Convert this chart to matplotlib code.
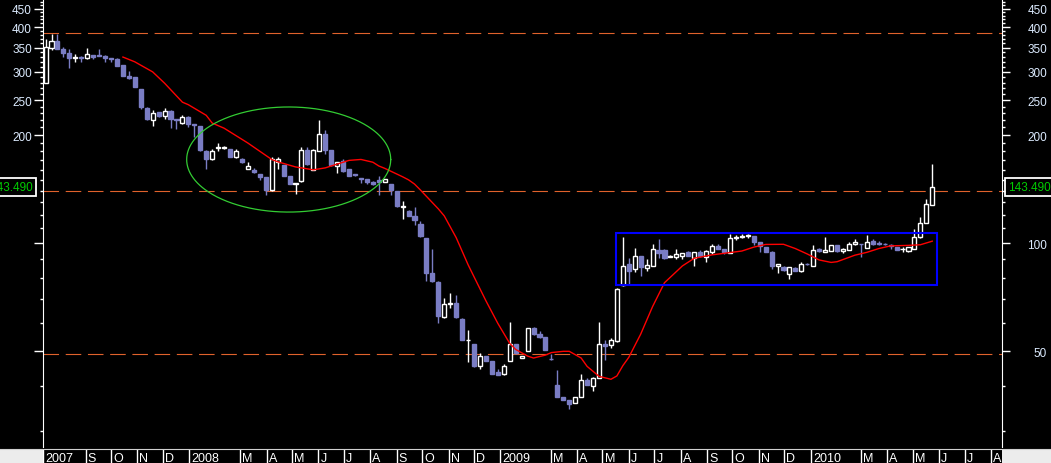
# weekly candlestick chart, log scale, black terminal style

import numpy as np
import pandas as pd
import matplotlib
matplotlib.use("Agg")
import matplotlib.pyplot as plt
import matplotlib.dates as mdates
import matplotlib.transforms as mtransforms
from matplotlib.patches import Rectangle
from matplotlib.lines import Line2D
from matplotlib.ticker import FixedLocator, FixedFormatter, NullFormatter

plt.rcParams['font.family'] = ['Liberation Sans', 'DejaVu Sans']

# weekly bars
first_week = '2007-07-16'
opens = [280, 349, 365, 348, 339, 329, 330, 327, 334, 334,
         333, 328, 326, 313, 293, 290, 268, 238, 221, 232,
         226, 233, 222, 216, 225, 215, 212, 180, 171, 184,
         184, 183, 174, 171, 161, 160, 156, 153, 141, 168,
         165, 154, 146, 149, 182, 160, 181, 201, 182, 164,
         169, 161, 155.5, 152, 151, 148, 150, 148, 146, 140,
         126.3, 123, 119, 113, 103, 82.5, 78, 62.2, 67.6, 68,
         61.4, 53.5, 52.3, 45.4, 48.3, 47, 43.8, 43.2, 46.9, 52.3,
         47.8, 50.1, 58.1, 55.6, 54.6, 47.6, 40.2, 37.3, 36.4, 35.7,
         37.2, 41.4, 40, 42.1, 52.3, 51.9, 53.4, 76.5, 87.4, 84.5,
         91.9, 85.3, 86.5, 95.4, 95.6, 91.7, 91.4, 92.2, 94.2, 90.8,
         94.6, 91.4, 94.6, 97.9, 96.2, 93.8, 103.5, 104.2, 104.6, 104.4,
         100.4, 97.3, 94.6, 86.1, 85.6, 82, 85.3, 83.3, 87.5, 86.5,
         96.2, 94.6, 95.2, 98.7, 94.8, 95.8, 99.1, 99.6, 96.7, 101.3,
         100, 99.6, 98.8, 97.3, 96.1, 95.2, 96.2, 103.7, 113.7, 128]
highs = [370, 383, 383, 352, 347, 336, 333, 350, 334, 348,
         335, 328, 327, 314, 302, 291, 269, 240, 235, 232,
         238, 235, 222, 227, 226, 215, 212, 182, 183, 190,
         186, 183, 183, 173, 168, 162, 156, 153, 174, 174,
         165, 154, 147, 185, 185, 183, 221, 207, 182, 168,
         172, 161, 156, 152, 151, 149, 154, 151, 146, 140,
         131, 124, 126, 115, 103, 96, 78.4, 70.3, 72.5, 71.6,
         62, 57.2, 52.3, 49.3, 48.5, 47, 44.5, 46, 60.4, 52.3,
         48.5, 58.1, 58.2, 57, 54.6, 49, 44.3, 37.3, 36.4, 37.2,
         43.2, 42.1, 42.2, 60.4, 53.6, 54.5, 75, 104, 90.6, 96.8,
         92, 90.3, 99.1, 102.6, 96, 92.5, 96, 94, 95.2, 94.5,
         95.4, 95.5, 99.4, 99.7, 96.3, 106, 105.5, 106, 106.3, 104.5,
         100.5, 97.5, 94.8, 87.5, 86.5, 85.6, 85.5, 88.5, 87.8, 98.7,
         97, 103.7, 98.8, 99, 97, 100.8, 102.6, 99.7, 105.3, 102.6,
         101, 100, 99.4, 97.5, 97.4, 97.7, 109.4, 118, 133, 166]
lows = [280, 346, 348, 331, 307, 319, 319, 326, 326, 332,
        320, 320, 311, 292, 287, 272, 237, 221, 212, 225,
        222, 209, 208, 215, 210, 198, 181, 161, 170, 181,
        183, 174, 173, 167, 161, 157, 150, 136, 140, 161,
        154, 146, 137, 148, 165, 160, 181, 177, 164, 157,
        158, 154, 154, 147, 146, 145, 136, 148, 136, 126,
        117, 119, 112, 104, 78.5, 78, 59.7, 62, 65.7, 62,
        53.5, 46.5, 45.2, 44.5, 47, 43.2, 42.8, 42.9, 46.8, 49,
        47.8, 50, 55.5, 54.5, 50.4, 47.2, 37.2, 36.4, 34.5, 35.7,
        37.1, 40.1, 38.8, 42, 47.2, 51, 53, 76, 76.5, 82.9,
        80.8, 83.4, 86.4, 90.6, 90.5, 91.3, 90.2, 90.2, 92, 86.1,
        91.7, 88.4, 93, 96, 93, 93.7, 102, 103, 103, 98.7,
        94.6, 94.5, 84.6, 82.5, 83.8, 79.4, 83.5, 82.9, 87, 86.4,
        94.6, 94.5, 95, 94.7, 94, 95.7, 99, 91.2, 96.6, 99,
        99, 99, 96, 95.6, 94.6, 94.7, 96, 103, 113.5, 127.5]
closes = [352, 365, 348, 339, 328, 329.5, 328, 336, 331, 333,
          328, 326, 312, 293, 289, 273, 240, 222, 231, 226,
          234, 222, 221, 225, 215, 214, 182, 172, 181, 185,
          184.5, 174, 181, 168, 164, 158, 153, 141, 171, 171,
          154, 146.5, 146.5, 182, 166, 182, 201, 182, 165, 168,
          159, 154, 155, 151, 148, 146, 148, 151, 141, 127,
          126.6, 119, 116, 104.4, 82.5, 78.5, 62.4, 67.6, 68, 62.2,
          53.8, 53.8, 45.5, 48.3, 47, 43.2, 43, 45.3, 52.3, 49.4,
          48.5, 58.1, 55.6, 54.6, 50.4, 47.4, 37.3, 36.4, 35.5, 37.2,
          41.4, 40.2, 42.1, 52.3, 51.6, 53.6, 74.5, 86.1, 83.3, 91.8,
          86, 86.9, 96.2, 94, 90.6, 92, 93.2, 93.6, 92.2, 94.2,
          91.8, 95.2, 97.9, 96.2, 94.2, 103.1, 103.8, 104.5, 104.9, 100.8,
          97.9, 94.6, 86.1, 87.4, 84.3, 85.5, 83.8, 87.4, 87.2, 95.8,
          95, 95.6, 98.7, 94.8, 96.2, 99.4, 100.8, 99.3, 100.4, 99.1,
          99.7, 99.3, 98.3, 95.8, 96.4, 97.3, 103.7, 113.7, 128.5, 143.49]

# red moving average (week index, value)
ma_week = [13, 15, 18, 20, 23, 24, 27, 28, 30, 34, 38, 39, 42, 45, 47, 49, 51, 53,
           55, 56, 57, 60, 61, 62, 63, 66, 67, 69, 71, 72, 74, 76, 78, 79, 81, 82,
           84, 85, 87, 88, 90, 91, 93, 95, 96, 97, 98, 100, 102, 104, 107, 109, 112,
           114, 117, 119, 121, 124, 126, 128, 130, 132, 133, 136, 138, 140, 142, 145,
           147, 149]
ma_val = [330, 320, 300, 279, 247, 243, 227, 216, 209, 190, 171, 168.5, 163, 160,
          162, 166, 170, 171, 168, 164, 161.5, 153, 150, 146, 140.5, 124.5, 119,
          103.5, 87, 80.5, 69, 59.7, 52.5, 50.5, 48.4, 47.8, 48.7, 49.5, 49.9, 49.9,
          47.8, 45.3, 42.5, 41.7, 42.6, 45.5, 48, 55.7, 66.5, 77.5, 86.3, 90.7, 92.7,
          93.6, 95, 97.4, 99.1, 99.2, 96.5, 93.2, 89.7, 88.3, 88.7, 92.5, 94.2, 96.5,
          98.2, 98.5, 98.9, 101.2]

last_price = 143.49
level_lines = [384, 140, 49]
ellipse_dates = ['2007-12-29', '2008-08-25']
ellipse_prices = [122, 239.5]
box_dates = ['2009-05-17', '2010-05-29']
box_prices = [76.2, 106.4]

major_ticks = [50, 100, 200, 250, 300, 350, 400, 450]
left_labels = ['', '', '200', '250', '300', '350', '400', '450']
right_labels = ['50', '100', '200', '250', '300', '350', '400', '450']
minor_ticks = [v for v in range(30, 480, 10) if v not in major_ticks]

month_labels = ['2007', 'S', 'O', 'N', 'D', '2008', 'M', 'A', 'M', 'J', 'J', 'A',
                'S', 'O', 'N', 'D', '2009', 'M', 'A', 'M', 'J', 'J', 'A', 'S', 'O',
                'N', 'D', '2010', 'M', 'A', 'M', 'J', 'J', 'A']
month_starts = ['2007-07-13', '2007-09-01', '2007-10-01', '2007-11-01', '2007-12-01',
                '2008-01-01', '2008-03-01', '2008-04-01', '2008-05-01', '2008-06-01',
                '2008-07-01', '2008-08-01', '2008-09-01', '2008-10-01', '2008-11-01',
                '2008-12-01', '2009-01-01', '2009-03-01', '2009-04-01', '2009-05-01',
                '2009-06-01', '2009-07-01', '2009-08-01', '2009-09-01', '2009-10-01',
                '2009-11-01', '2009-12-01', '2010-01-01', '2010-03-01', '2010-04-01',
                '2010-05-01', '2010-06-01', '2010-07-01', '2010-08-01']

# colours
down_col = '#7A7DC4'
up_col = 'white'
tick_col = '#DCEBFF'
level_col = '#E0622C'

W, H = 1051, 464
fig = plt.figure(figsize=(W / 100, H / 100), dpi=100, facecolor='black')
ax = fig.add_axes([43 / W, 16 / H, 959 / W, 448 / H])
ax.set_facecolor('black')

dates = pd.date_range(first_week, periods=len(closes), freq='7D')
x = mdates.date2num(dates)
o = np.array(opens); h = np.array(highs); l = np.array(lows); c = np.array(closes)
up = c >= o

xmin = mdates.date2num(pd.Timestamp('2007-07-13'))
xmax = mdates.date2num(pd.Timestamp('2010-08-14'))

ax.set_yscale('log')
ax.set_xlim(xmin, xmax)
ax.set_ylim(27, 479)

# wicks
wick_cols = [up_col if u else down_col for u in up]
ax.vlines(x, l, h, colors=wick_cols, linewidth=1.0, zorder=2)

# bodies
bottom = np.minimum(o, c)
height = np.maximum(np.abs(c - o), bottom * 0.004)
ax.bar(x, height, width=4.8, bottom=bottom,
       color=['black' if u else down_col for u in up],
       edgecolor=[up_col if u else down_col for u in up],
       linewidth=1.0, zorder=3)

# moving average
ax.plot(dates[ma_week], ma_val, color='#FF0000', lw=1.0, zorder=4)

# horizontal levels
for v in level_lines:
    ax.axhline(v, color=level_col, lw=0.8, dashes=(14, 6), zorder=1)

# blue consolidation box
bx = mdates.date2num(pd.to_datetime(box_dates))
ax.add_patch(Rectangle((bx[0], box_prices[0]), bx[1] - bx[0], box_prices[1] - box_prices[0],
                       fill=False, edgecolor='#0000FF', lw=1.5, zorder=5))

# green ellipse, drawn round in screen space
ex = mdates.date2num(pd.to_datetime(ellipse_dates))
p = ax.transData.transform([(ex[0], ellipse_prices[0]), (ex[1], ellipse_prices[1])])
cx, cy = p.mean(axis=0)
rx, ry = np.abs(p[1] - p[0]) / 2
t = np.linspace(0, 2 * np.pi, 400)
pts = np.column_stack([cx + rx * np.cos(t), cy + ry * np.sin(t)])
dp = ax.transData.inverted().transform(pts)
ax.plot(dp[:, 0], dp[:, 1], color='#33CC33', lw=0.9, zorder=5)

# axes styling
ax.set_xticks([])
for s in ['top', 'bottom', 'right']:
    ax.spines[s].set_visible(False)
ax.spines['left'].set_color('white')
ax.yaxis.set_major_locator(FixedLocator(major_ticks))
ax.yaxis.set_major_formatter(FixedFormatter(left_labels))
ax.yaxis.set_minor_locator(FixedLocator(minor_ticks))
ax.yaxis.set_minor_formatter(NullFormatter())
ax.tick_params(axis='y', which='major', length=6.5, width=1, color='white',
               labelcolor=tick_col, labelsize=8.5, pad=1.5)
ax.tick_params(axis='y', which='minor', length=2.5, width=1, color='white')

axr = ax.twinx()
axr.set_yscale('log')
axr.set_ylim(27, 479)
for s in ['top', 'bottom', 'left']:
    axr.spines[s].set_visible(False)
axr.spines['right'].set_color('white')
axr.yaxis.set_major_locator(FixedLocator(major_ticks))
axr.yaxis.set_major_formatter(FixedFormatter(right_labels))
axr.yaxis.set_minor_locator(FixedLocator(minor_ticks))
axr.yaxis.set_minor_formatter(NullFormatter())
axr.tick_params(axis='y', which='major', length=6, width=1, color='white',
                labelcolor=tick_col, labelsize=8.5, pad=26.5)
axr.tick_params(axis='y', which='minor', length=2.5, width=1, color='white')
for tk in axr.yaxis.get_major_ticks():
    tk.label2.set_horizontalalignment('right')

# last price boxes on both sides
trans = mtransforms.blended_transform_factory(ax.transAxes, ax.transData)
box_style = dict(facecolor='black', edgecolor='white', boxstyle='square,pad=0.25', lw=1.3)
ax.text(1.0063, last_price, f'{last_price:.3f}', transform=trans, ha='left', va='center',
        color='#00CC00', fontsize=8.5, bbox=box_style, zorder=10, clip_on=False)
ax.text(-0.0104, last_price, f'{last_price:.3f}', transform=trans, ha='right', va='center',
        color='#00CC00', fontsize=8.5, bbox=box_style, zorder=10, clip_on=False)

# bottom month strip
axl = fig.add_axes([43 / W, 0, 959 / W, 14 / H])
axl.set_facecolor('black')
axl.set_xlim(xmin, xmax)
axl.set_ylim(0, 1)
axl.set_xticks([])
axl.set_yticks([])
for s in axl.spines.values():
    s.set_visible(False)
ms = mdates.date2num(pd.to_datetime(month_starts))
for d, lab in zip(ms, month_labels):
    axl.axvline(d, color='white', lw=1.0)
    axl.text(d + 2.5, 0.12, lab, color='white', fontsize=9, ha='left', va='baseline')

fig.add_artist(Rectangle((0, 0), 43 / W, 14 / H, transform=fig.transFigure,
                         facecolor='#ECECEC', edgecolor='none'))
fig.add_artist(Rectangle((1002 / W, 0), (W - 1002) / W, 14 / H, transform=fig.transFigure,
                         facecolor='#ECECEC', edgecolor='none'))
fig.add_artist(Line2D([0, 1], [14.5 / H, 14.5 / H], transform=fig.transFigure,
                      color='#D0D0D0', lw=0.8))

fig.savefig('out.png', dpi=100, facecolor='black')
